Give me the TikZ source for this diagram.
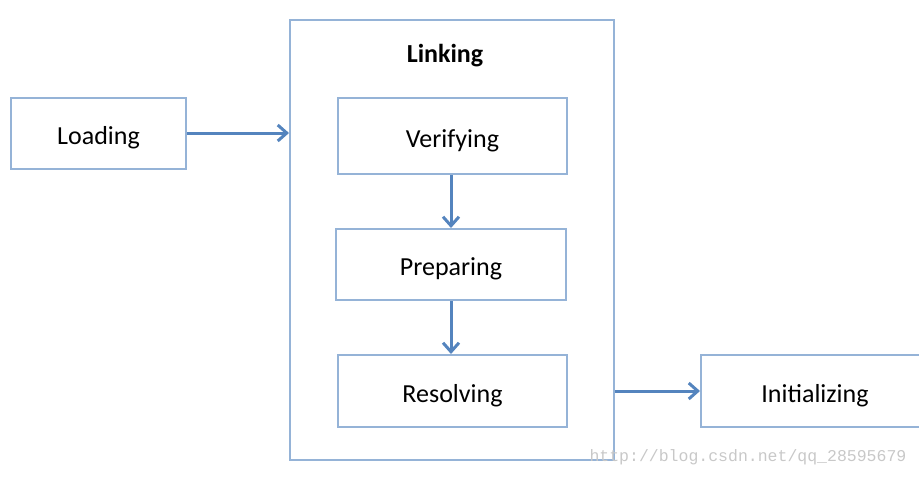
\documentclass[tikz,border=0pt]{standalone}
\usepackage{fontspec}
\setmainfont{Carlito}
\newfontfamily\wmfont{Liberation Mono}
\usetikzlibrary{arrows.meta}
\definecolor{boxblue}{RGB}{149,179,215}
\definecolor{arrblue}{RGB}{84,132,190}
\definecolor{wmgray}{RGB}{200,200,200}
\begin{document}
\begin{tikzpicture}[x=1pt,y=-1pt,
  stage/.style={draw=boxblue, line width=2pt, fill=white, inner sep=0pt, anchor=north west,
    font=\fontsize{26}{30}\selectfont, text height=24pt, text depth=2pt},
  flow/.style={draw=arrblue, line width=3pt, -{Straight Barb[length=9pt,width=16pt,line width=3pt]}}]
\useasboundingbox (0,0) rectangle (919,477);
\node[stage, minimum width=175pt, minimum height=71pt] (loading) at (10,97) {Loading};
\node[draw=boxblue, line width=2pt, minimum width=324pt, minimum height=440pt, anchor=north west, inner sep=0pt] (linking) at (289,19) {};
\node[font=\fontsize{26}{30}\selectfont\bfseries] (linktitle) at (445,56) {Linking};
\node[stage, minimum width=229pt, minimum height=76pt] (verifying) at (337,97) {Verifying};
\node[stage, minimum width=230pt, minimum height=71pt] (preparing) at (335,228) {Preparing};
\node[stage, minimum width=229pt, minimum height=72pt] (resolving) at (337,354) {Resolving};
\node[stage, minimum width=228pt, minimum height=72pt] (initializing) at (700,354) {Initializing};
% connectors
\draw[flow] (loading.east |- 0,133) -- (linking.west |- 0,133);
\draw[flow] (verifying.south -| 451,0) -- (preparing.north -| 451,0);
\draw[flow] (preparing.south -| 451,0) -- (resolving.north -| 451,0);
\draw[flow] (linking.east |- 0,391) -- (initializing.west |- 0,391);
% watermark
\node[text=wmgray, font=\wmfont\fontsize{16.5}{18}\selectfont, anchor=west] (wm) at (586,457) {http://blog.csdn.net/qq\_28595679};
\end{tikzpicture}
\end{document}
